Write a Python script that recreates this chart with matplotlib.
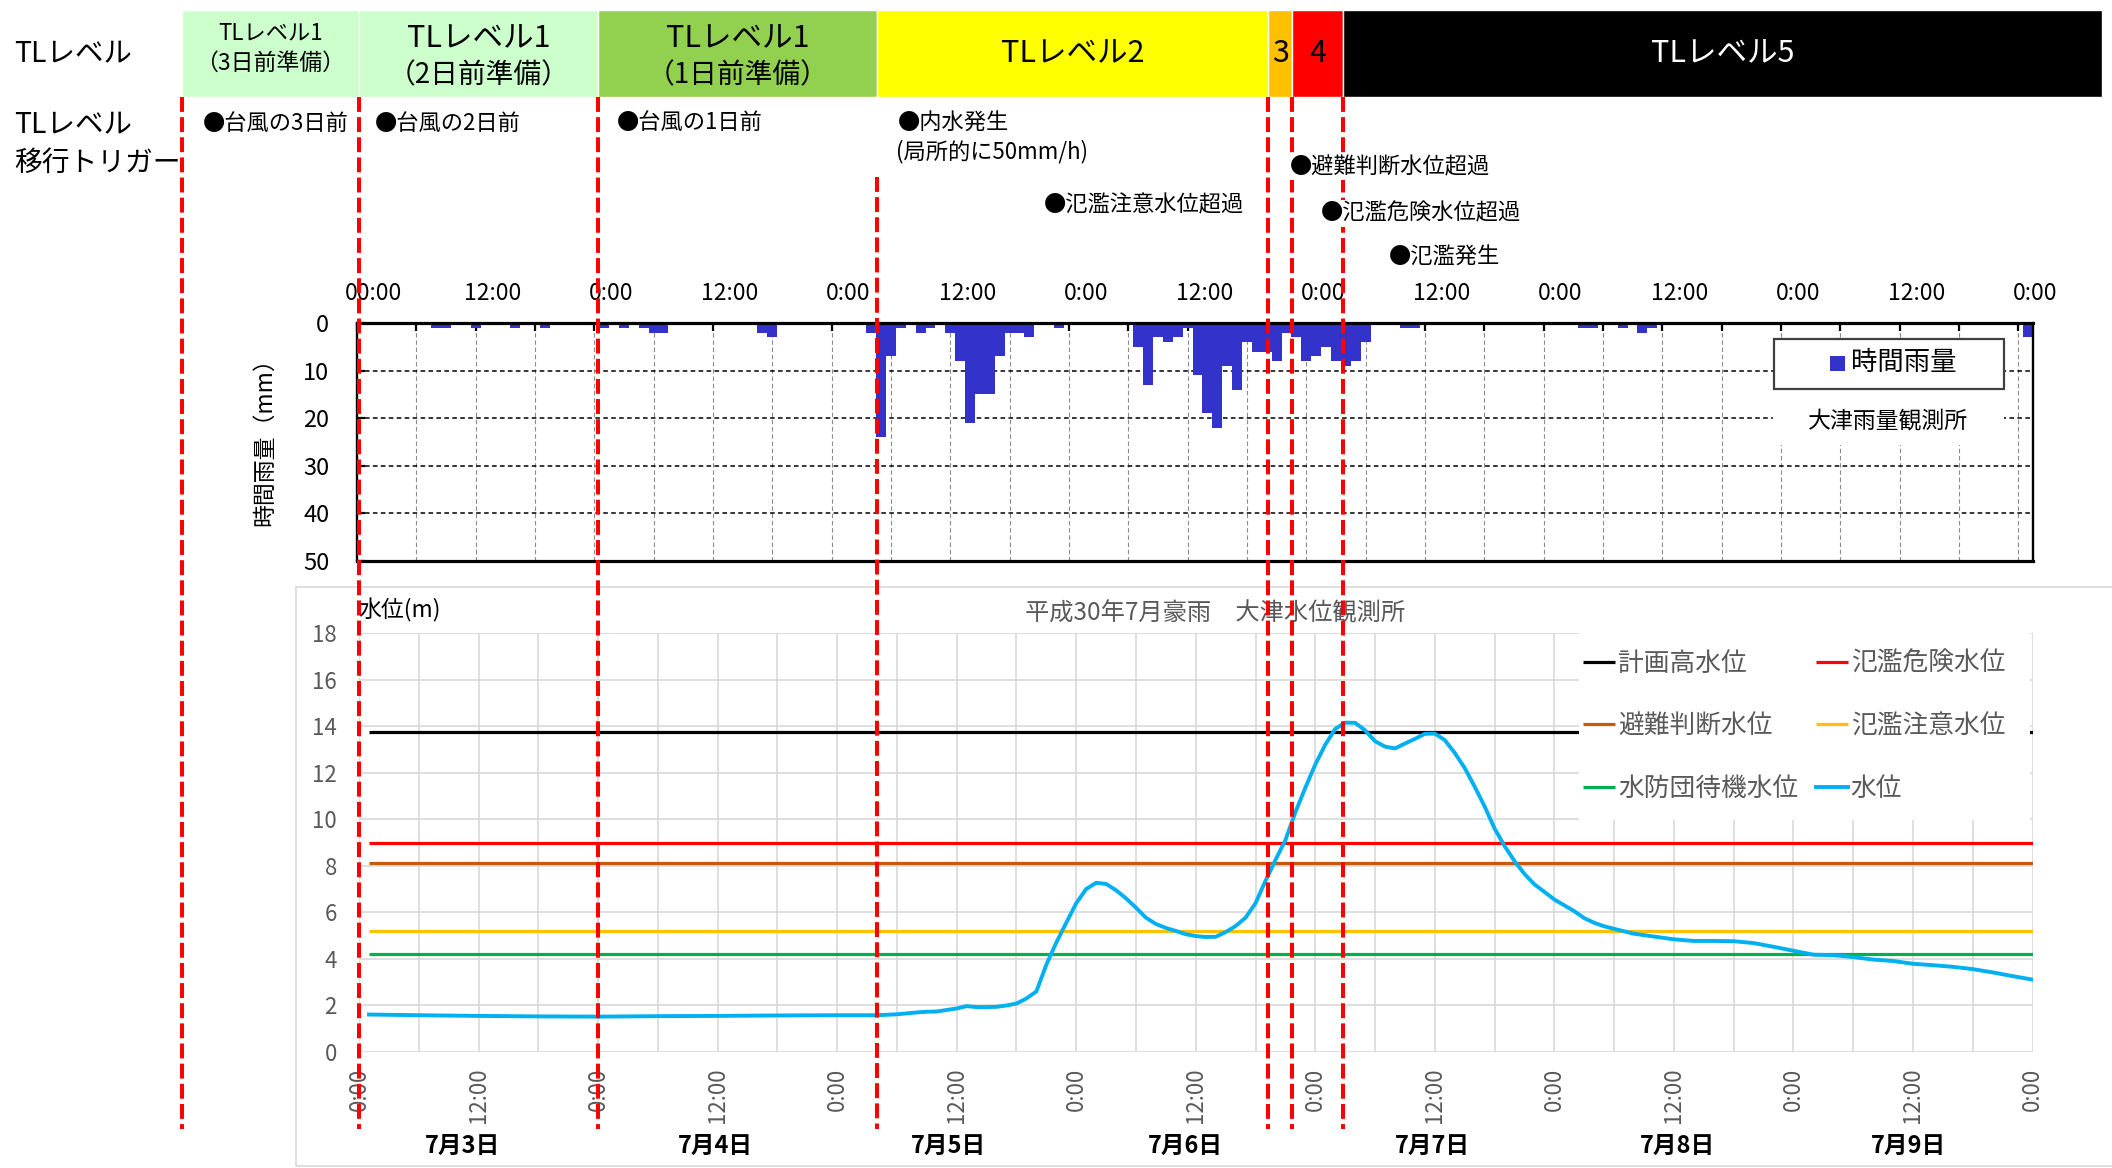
import matplotlib
matplotlib.use('Agg')
import matplotlib.pyplot as plt
from matplotlib import transforms
from matplotlib.patches import Rectangle
from matplotlib.lines import Line2D
import numpy as np

plt.rcParams['font.family'] = ['Noto Sans CJK JP', 'DejaVu Sans']

# ---------------- data ----------------
# hourly rainfall (hours from 7/3 0:00)
rain_hours = [8, 9, 12, 16, 19, 25, 27, 29, 30, 31, 41, 42, 52, 53, 54, 55, 57, 58,
              60, 61, 62, 63, 64, 65, 66, 67, 68, 71, 79, 80, 81, 82, 83, 84, 85, 86,
              87, 88, 89, 90, 91, 92, 93, 94, 95, 96, 97, 98, 99, 100, 101, 102,
              106, 107, 124, 125, 128, 130, 131, 169]
rain_mm = [1, 1, 1, 1, 1, 1, 1, 1, 2, 2, 2, 3, 2, 24, 7, 1, 2, 1,
           2, 8, 21, 15, 15, 7, 2, 2, 3, 1, 5, 13, 3, 4, 3, 1, 11, 19,
           22, 9, 14, 4, 6, 6, 8, 2, 3, 8, 7, 5, 8, 9, 8, 4,
           1, 1, 1, 1, 1, 2, 1, 3]

# water level (hours from 7/3 0:00)
level_hours = [1, 6, 12, 18, 24, 30, 36, 42, 48, 52, 54, 56, 57, 58, 60, 61, 62, 63, 64,
               65, 66, 67, 68, 69, 70, 71, 72, 73, 74, 75, 76, 77, 78, 79, 80, 81, 82,
               83, 84, 85, 86, 87, 88, 89, 90, 91, 92, 93, 94, 95, 96, 97, 98, 99, 100,
               101, 102, 103, 104, 105, 106, 107, 108, 109, 110, 111, 112, 113, 114,
               115, 116, 117, 118, 119, 120, 121, 122, 123, 124, 125, 126, 128, 130,
               132, 134, 136, 138, 140, 142, 144, 146, 148, 150, 152, 154, 156, 158,
               160, 162, 164, 166, 168]
level_m = [1.61, 1.58, 1.55, 1.53, 1.52, 1.54, 1.55, 1.57, 1.58, 1.58, 1.62, 1.70, 1.73,
           1.74, 1.87, 1.97, 1.93, 1.93, 1.94, 2.00, 2.08, 2.30, 2.60, 3.75, 4.70, 5.55,
           6.39, 7.00, 7.27, 7.22, 6.95, 6.60, 6.20, 5.77, 5.50, 5.33, 5.20, 5.06, 4.98,
           4.94, 4.95, 5.15, 5.41, 5.77, 6.39, 7.35, 8.25, 9.10, 10.30, 11.35, 12.35,
           13.20, 13.88, 14.15, 14.14, 13.82, 13.35, 13.12, 13.04, 13.25, 13.45, 13.67,
           13.68, 13.40, 12.85, 12.20, 11.40, 10.55, 9.60, 8.85, 8.20, 7.65, 7.20, 6.88,
           6.55, 6.30, 6.05, 5.75, 5.55, 5.40, 5.29, 5.08, 4.96, 4.84, 4.77, 4.77, 4.76,
           4.68, 4.52, 4.35, 4.18, 4.16, 4.08, 3.97, 3.91, 3.79, 3.73, 3.66, 3.56, 3.42,
           3.26, 3.11]
level_name = '水位'

threshold_names = ['計画高水位', '氾濫危険水位', '避難判断水位', '氾濫注意水位', '水防団待機水位']
threshold_values = [13.75, 9.0, 8.1, 5.2, 4.2]

# TL level stages (start hours) and labels
event_hours = [-17.8, 0, 24, 52, 91.3, 93.7, 98.8]
tl_end_hour = 175
tl_main = ['TLレベル1', 'TLレベル1', 'TLレベル1', 'TLレベル2', '3', '4', 'TLレベル5']
tl_sub = ['（3日前準備）', '（2日前準備）', '（1日前準備）', '', '', '', '']

triggers = ['●台風の3日前', '●台風の2日前', '●台風の1日前', '●内水発生',
            '(局所的に50mm/h)', '●氾濫注意水位超過', '●避難判断水位超過',
            '●氾濫危険水位超過', '●氾濫発生']

rain_tick_labels = ['00:00', '12:00', '0:00', '12:00', '0:00', '12:00', '0:00', '12:00',
                    '0:00', '12:00', '0:00', '12:00', '0:00', '12:00', '0:00']
level_tick_labels = ['0:00', '12:00', '0:00', '12:00', '0:00', '12:00', '0:00', '12:00',
                     '0:00', '12:00', '0:00', '12:00', '0:00', '12:00', '0:00']
date_labels = ['7月3日', '7月4日', '7月5日', '7月6日', '7月7日', '7月8日', '7月9日']

# ---------------- styles / layout ----------------
W, H = 2112, 1168
def fx(p): return p / W
def fy(p): return 1 - p / H

tl_colors = ['#CCFFCC', '#CCFFCC', '#92D050', '#FFFF00', '#FFC000', '#FF0000', '#000000']
tl_text_colors = ['black'] * 6 + ['white']
threshold_colors = ['#000000', '#FF0000', '#C55A11', '#FFC000', '#00B050']
level_color = '#00B0F0'
rain_color = '#3333CC'
gray_txt = '#595959'

fig = plt.figure(figsize=(W / 100, H / 100), dpi=100)
fig.patch.set_facecolor('white')

# ---------------- rain axes ----------------
ax_r = fig.add_axes([fx(357), fy(561), (2033 - 357) / W, (561 - 323) / H])
ax_r.bar(rain_hours, rain_mm, width=1.0, color=rain_color, align='center', zorder=2)
ax_r.set_xlim(0, 169.5)
ax_r.set_ylim(50, 0)
ax_r.set_axisbelow(True)
ax_r.xaxis.tick_top()
xt = np.arange(0, 169, 6)
ax_r.set_xticks(xt)
ax_r.set_xticklabels([])
ax_r.tick_params(axis='x', direction='in', length=6, width=1.6, color='black',
                 top=True, bottom=False)
ax_r.set_yticks([0, 10, 20, 30, 40, 50])
ax_r.tick_params(axis='y', direction='in', length=6, width=1.6, pad=20, labelsize=17,
                 left=True, right=False)
ax_r.yaxis.grid(True, color='black', linestyle=(0, (3, 2.2)), linewidth=1.1)
ax_r.xaxis.grid(True, color='#8C8C8C', linestyle=(0, (4, 2.5)), linewidth=0.8)
for s in ['top', 'bottom']:
    ax_r.spines[s].set_linewidth(2.3)
for s in ['left', 'right']:
    ax_r.spines[s].set_linewidth(1.7)

rain_lbl_trans = transforms.blended_transform_factory(ax_r.transData, ax_r.transAxes) + \
    transforms.ScaledTranslation(0.17, 0.29, fig.dpi_scale_trans)
for i, lbl in enumerate(rain_tick_labels):
    ax_r.text(i * 12, 1.0, lbl, transform=rain_lbl_trans, ha='center', va='center',
              fontsize=16.5, color='black')

fig.text(fx(265), fy(436), '時間雨量（mm）', rotation=90, ha='center', va='center',
         fontsize=16.5)

# rain legend + station name
fig.add_artist(Rectangle((fx(1773), fy(445)), fx(2004) - fx(1773), fy(389) - fy(445),
                         transform=fig.transFigure, facecolor='white', edgecolor='none',
                         zorder=3))
fig.add_artist(Rectangle((fx(1774), fy(389)), fx(2004) - fx(1774), fy(339) - fy(389),
                         transform=fig.transFigure, facecolor='white', edgecolor='#404040',
                         linewidth=1.6, zorder=3))
fig.add_artist(Rectangle((fx(1830), fy(371)), fx(1845) - fx(1830), fy(356) - fy(371),
                         transform=fig.transFigure, facecolor=rain_color, edgecolor='none',
                         zorder=4))
fig.text(fx(1851), fy(362), '時間雨量', ha='left', va='center', fontsize=19, zorder=4)
fig.text(fx(1888), fy(421), '大津雨量観測所', ha='center', va='center', fontsize=16.5,
         zorder=4)

# ---------------- water level axes ----------------
fig.add_artist(Rectangle((fx(296), fy(1166)), fx(2130) - fx(296), fy(587) - fy(1166),
                         transform=fig.transFigure, facecolor='none', edgecolor='#D9D9D9',
                         linewidth=1.2, zorder=0))
ax_w = fig.add_axes([fx(359), fy(1052), (2032.5 - 359) / W, (1052 - 633) / H])
ax_w.patch.set_alpha(0)
handles = []
for name, v, c in zip(threshold_names, threshold_values, threshold_colors):
    h, = ax_w.plot([level_hours[0], level_hours[-1]], [v, v], color=c, lw=2.3, label=name,
                   solid_capstyle='butt', zorder=2)
    handles.append(h)
hl, = ax_w.plot(level_hours, level_m, color=level_color, lw=2.8, label=level_name, zorder=3)
handles.append(hl)
ax_w.set_xlim(0, 168)
ax_w.set_ylim(0, 18)
ax_w.set_axisbelow(True)
ax_w.set_xticks(xt)
ax_w.set_xticklabels([level_tick_labels[i // 2] if i % 2 == 0 else '' for i in range(len(xt))])
ax_w.tick_params(axis='x', length=0, pad=11, labelsize=16, labelcolor=gray_txt,
                 labelrotation=90)
ax_w.set_yticks(np.arange(0, 19, 2))
ax_w.tick_params(axis='y', length=0, pad=16, labelsize=16, labelcolor=gray_txt)
ax_w.grid(True, color='#D9D9D9', linewidth=1.2)
for s in ax_w.spines.values():
    s.set_visible(False)

# white legend box (Excel style, spanning to the plot edge)
ax_w.add_patch(Rectangle((0.729, 0.554), 0.9985 - 0.729, 1.0 - 0.554,
                         transform=ax_w.transAxes, facecolor='white', edgecolor='none',
                         zorder=4))
order = [0, 2, 4, 1, 3, 5]
leg = ax_w.legend(handles=[handles[i] for i in order], loc='upper left',
                  bbox_to_anchor=(0.7207, 1.0), ncol=2, fontsize=18.5, frameon=False,
                  handlelength=1.25, handletextpad=0.1, columnspacing=0.7,
                  labelspacing=1.42, borderpad=0.7, borderaxespad=0)
leg.set_zorder(5)
for t in leg.get_texts():
    t.set_color(gray_txt)

fig.text(fx(358), fy(610), '水位(m)', ha='left', va='center', fontsize=16.5, color='black')
fig.text(fx(1215), fy(613), '平成30年7月豪雨　大津水位観測所', ha='center', va='center',
         fontsize=17.5, color=gray_txt)

date_trans = transforms.blended_transform_factory(ax_w.transData, fig.transFigure)
date_label_hours = [10.4, 35.8, 59.2, 83.0, 107.8, 132.4, 155.5]
for hh, lbl in zip(date_label_hours, date_labels):
    fig.text(hh, fy(1146), lbl, transform=date_trans, ha='center', va='center',
             fontsize=17, fontweight='bold')

# ---------------- TL level bar ----------------
blend = transforms.blended_transform_factory(ax_w.transData, fig.transFigure)
bar_top, bar_bot = 10, 97
for i in range(len(tl_main)):
    x0 = event_hours[i]
    x1 = event_hours[i + 1] if i + 1 < len(event_hours) else tl_end_hour
    fig.add_artist(Rectangle((x0, fy(bar_bot)), x1 - x0, fy(bar_top) - fy(bar_bot),
                             transform=blend, facecolor=tl_colors[i], edgecolor='white',
                             linewidth=1.0, zorder=1))
    xc = (x0 + x1) / 2
    if tl_sub[i]:
        small = (i == 0)
        fig.text(xc, fy(33 if small else 39), tl_main[i], transform=blend, ha='center',
                 va='center', fontsize=16 if small else 22, color=tl_text_colors[i], zorder=2)
        fig.text(xc, fy(63 if small else 75), tl_sub[i], transform=blend, ha='center',
                 va='center', fontsize=16.5 if small else 20, color=tl_text_colors[i],
                 zorder=2)
    else:
        fig.text(xc, fy(54), tl_main[i], transform=blend, ha='center', va='center',
                 fontsize=22, color=tl_text_colors[i], zorder=2)

# event dashed lines
line_tops = [97, 97, 97, 177, 97, 97, 97]
for hh, tp in zip(event_hours, line_tops):
    fig.add_artist(Line2D([hh, hh], [fy(tp), fy(1129)], transform=blend, color='#FF0000',
                          linewidth=2.9, linestyle=(0, (3.7, 1.3)), zorder=4))

# left labels
fig.text(fx(14), fy(54), 'TLレベル', ha='left', va='center', fontsize=20.5)
fig.text(fx(14), fy(125), 'TLレベル', ha='left', va='center', fontsize=20.5)
fig.text(fx(14), fy(163), '移行トリガー', ha='left', va='center', fontsize=20)

# trigger texts
trigger_pos = [(203, 123), (375, 123), (617, 122), (898, 123), (896, 152),
               (1044, 205), (1290, 167), (1321, 213), (1389, 257)]
for txt, (px, py) in zip(triggers, trigger_pos):
    fig.text(fx(px), fy(py), txt, ha='left', va='center', fontsize=16, zorder=5,
             bbox=dict(facecolor='white', edgecolor='none', pad=1.5))

fig.savefig('out.png', dpi=100, facecolor='white')
